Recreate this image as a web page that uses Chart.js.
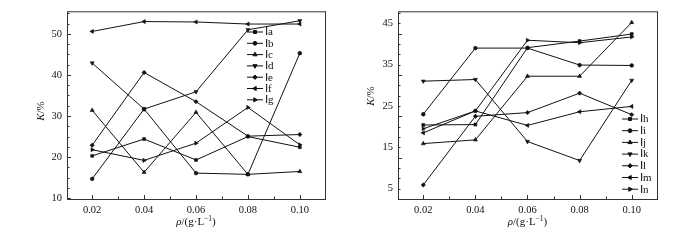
<!DOCTYPE html>
<html>
<head>
<meta charset="utf-8">
<script src="https://cdn.jsdelivr.net/npm/chart.js@4/dist/chart.umd.min.js"></script>
<style>
  body { margin: 0; background: #fff; }
  .box { position: absolute; top: 0; width: 350px; height: 240px; }
</style>
</head>
<body>
<div class="box" style="left:0"><canvas id="leftChart" width="350" height="240"></canvas></div>
<div class="box" style="left:350px"><canvas id="rightChart" width="350" height="240"></canvas></div>
<script>
// concentration (g/L)
const rho = [0.02, 0.04, 0.06, 0.08, 0.10];

// left panel, K/%
const leftNames = ['Ⅰa', 'Ⅰb', 'Ⅰc', 'Ⅰd', 'Ⅰe', 'Ⅰf', 'Ⅰg'];
const Ia = [20.3, 24.4, 19.3, 25.0, 22.4];
const Ib = [14.7, 31.7, 16.1, 15.8, 45.3];
const Ic = [31.4, 16.3, 30.9, 15.8, 16.5];
const Id = [42.9, 31.7, 35.9, 51.0, 53.2];
const Ie = [22.9, 40.6, 33.5, 25.1, 25.5];
const If = [50.6, 53.0, 52.9, 52.4, 52.4];
const Ig = [21.8, 19.2, 23.4, 32.1, 23.0];

// right panel, K/%
const rightNames = ['Ⅰh', 'Ⅰi', 'Ⅰj', 'Ⅰk', 'Ⅰl', 'Ⅰm', 'Ⅰn'];
const Ih = [20.4, 20.5, 39.1, 40.7, 42.4];
const Ii = [23.0, 39.0, 39.0, 34.9, 34.8];
const Ij = [15.9, 16.8, 32.2, 32.2, 45.2];
const Ik = [31.0, 31.4, 16.4, 11.8, 31.2];
const Il = [5.9, 22.5, 23.4, 28.1, 22.9];
const Im = [18.5, 23.8, 20.3, 23.6, 24.9];
const In = [19.5, 23.8, 40.9, 40.3, 41.7];

const xTicks = [0.02, 0.04, 0.06, 0.08, 0.10];
const leftYTicks = [10, 20, 30, 40, 50];
const rightYTicks = [5, 15, 25, 35, 45];

const markers = [
  { pointStyle: 'rect', rotation: 0, r: 2.1 },
  { pointStyle: 'circle', rotation: 0, r: 1.9 },
  { pointStyle: 'triangle', rotation: 0, r: 2.4 },
  { pointStyle: 'triangle', rotation: 180, r: 2.4 },
  { pointStyle: 'rectRot', rotation: 0, r: 2.2 },
  { pointStyle: 'triangle', rotation: 270, r: 2.4 },
  { pointStyle: 'triangle', rotation: 90, r: 2.4 },
];

const FONT = "'Liberation Serif', 'Times New Roman', serif";
const INK = '#111';

function makeDatasets(names, series) {
  return series.map((vals, i) => ({
    label: names[i],
    data: rho.map((r, j) => ({ x: r, y: vals[j] })),
    borderColor: INK,
    backgroundColor: INK,
    borderWidth: 1,
    pointRadius: markers[i].r,
    pointBorderWidth: 0.5,
    pointStyle: markers[i].pointStyle,
    rotation: markers[i].rotation,
    tension: 0,
  }));
}

// box + inward ticks + axis titles + legend
const decor = {
  id: 'decor',
  afterDraw(chart, args, o) {
    const { ctx, chartArea: a, scales: { x, y } } = chart;
    ctx.save();
    ctx.strokeStyle = '#333';
    ctx.lineWidth = 1;
    ctx.strokeRect(a.left + 0.5, a.top + 0.5, a.right - a.left, a.bottom - a.top);

    ctx.beginPath();
    for (let k = 1; k <= 11; k++) {
      const v = k / 100;
      if (v < x.min || v > x.max) continue;
      const px = Math.round(x.getPixelForValue(v)) + 0.5;
      const len = k % 2 === 0 ? 4 : 2.5;
      ctx.moveTo(px, a.bottom);
      ctx.lineTo(px, a.bottom - len);
    }
    for (let k = 0; k <= 40; k++) {
      const v = o.yStart + k * 2.5;
      if (v < y.min || v > y.max) continue;
      const py = Math.round(y.getPixelForValue(v)) + 0.5;
      const len = k % 4 === 0 ? 4 : 2.5;
      ctx.moveTo(a.left, py);
      ctx.lineTo(a.left + len, py);
    }
    ctx.stroke();

    // x title: ρ/(g·L⁻¹)
    ctx.fillStyle = INK;
    ctx.textBaseline = 'alphabetic';
    const parts = [
      ['italic 11px ' + FONT, 'ρ', 0],
      ['11px ' + FONT, '/(g·L', 0],
      ['7.5px ' + FONT, '−1', -4],
      ['11px ' + FONT, ')', 0],
    ];
    let w = 0;
    parts.forEach(p => { ctx.font = p[0]; w += ctx.measureText(p[1]).width; });
    let cx = (a.left + a.right) / 2 - w / 2;
    parts.forEach(p => {
      ctx.font = p[0];
      ctx.fillText(p[1], cx, o.xTitleY + p[2]);
      cx += ctx.measureText(p[1]).width;
    });

    // y title: K/%
    ctx.save();
    ctx.translate(o.yTitleX, o.yTitleY);
    ctx.rotate(-Math.PI / 2);
    ctx.font = 'italic 11px ' + FONT;
    const kw = ctx.measureText('K').width;
    ctx.font = '11px ' + FONT;
    const rw = ctx.measureText('/%').width;
    let ty = -(kw + rw) / 2;
    ctx.font = 'italic 11px ' + FONT;
    ctx.fillText('K', ty, 0);
    ctx.font = '11px ' + FONT;
    ctx.fillText('/%', ty + kw, 0);
    ctx.restore();

    // legend
    ctx.font = '11px ' + FONT;
    ctx.textBaseline = 'middle';
    chart.data.datasets.forEach((ds, i) => {
      const ly = o.legY + i * o.legGap;
      ctx.strokeStyle = INK;
      ctx.beginPath();
      ctx.moveTo(o.legX, ly + 0.5);
      ctx.lineTo(o.legX + 16, ly + 0.5);
      ctx.stroke();
      ctx.fillStyle = INK;
      Chart.helpers.drawPoint(ctx, {
        pointStyle: ds.pointStyle, rotation: ds.rotation, radius: ds.pointRadius, borderWidth: 0.5,
      }, o.legX + 8, ly + 0.5);
      ctx.fillText(ds.label, o.legX + 18, ly + 1);
    });
    ctx.restore();
  }
};

function makeChart(id, names, series, yMin, yMax, yTicks, plotLeft, padRight, o) {
  return new Chart(document.getElementById(id), {
    type: 'line',
    data: { datasets: makeDatasets(names, series) },
    options: {
      responsive: false,
      animation: false,
      layout: { padding: { top: 6, right: padRight, left: 0, bottom: 0 } },
      plugins: { legend: { display: false }, tooltip: { enabled: false }, decor: o },
      scales: {
        x: {
          type: 'linear', min: 0.0103, max: 0.1097,
          grid: { display: false, drawTicks: false },
          border: { display: false },
          afterBuildTicks: s => { s.ticks = xTicks.map(v => ({ value: v })); },
          afterFit: s => { s.height = 41; },
          ticks: {
            padding: 5, color: INK, maxRotation: 0,
            font: { family: FONT, size: 10.5 },
            callback: v => v.toFixed(2),
          },
        },
        y: {
          min: yMin, max: yMax,
          grid: { display: false, drawTicks: false },
          border: { display: false },
          afterBuildTicks: s => { s.ticks = yTicks.map(v => ({ value: v })); },
          afterFit: s => { s.width = plotLeft; },
          ticks: { padding: 5, color: INK, font: { family: FONT, size: 10.5 } },
        },
      },
    },
    plugins: [decor],
  });
}

makeChart('leftChart', leftNames, [Ia, Ib, Ic, Id, Ie, If, Ig], 9.8, 55.5, leftYTicks, 67, 25,
  { yStart: 10, xTitleY: 225, yTitleX: 44, yTitleY: 111, legX: 247, legY: 31.5, legGap: 11.3 });
makeChart('rightChart', rightNames, [Ih, Ii, Ij, Ik, Il, Im, In], 2.5, 47.9, rightYTicks, 48, 43,
  { yStart: 2.5, xTitleY: 225, yTitleX: 24, yTitleY: 96, legX: 272, legY: 118.5, legGap: 11.7 });
</script>
</body>
</html>
